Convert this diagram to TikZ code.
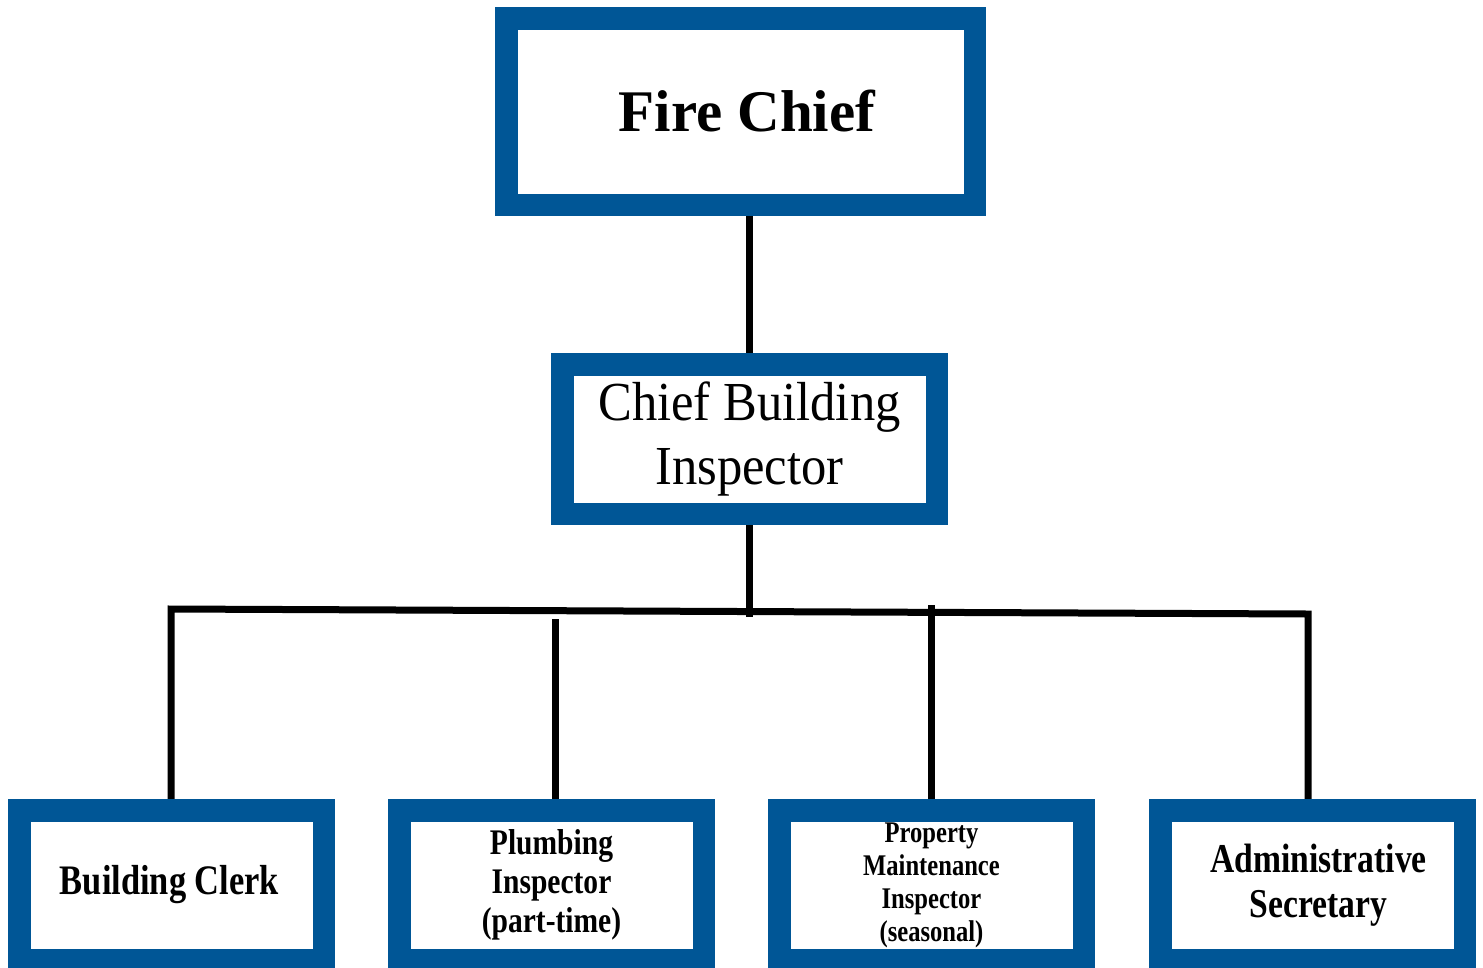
\documentclass[tikz,border=0pt]{standalone}
\usepackage{fontspec}
\setmainfont{Liberation Serif}
\newfontfamily\condA[FakeStretch=0.92]{Liberation Serif}
\newfontfamily\condB[FakeStretch=0.82]{Liberation Serif}
\usetikzlibrary{backgrounds}
\definecolor{orgblue}{RGB}{0,86,150}
\tikzset{
  orgbox/.style={draw=orgblue, fill=white, line width=22.5pt, inner sep=0pt, align=center, text=black},
  conn/.style={draw=black, line width=7pt},
}
\begin{document}
\begin{tikzpicture}[x=1pt,y=-1pt]
\useasboundingbox (0,0) rectangle (1483,967);
\node[orgbox, minimum width=468.5pt, minimum height=186.5pt, font={\rmfamily\bfseries\fontsize{59}{64}\selectfont}] (fc) at (740.5,111.5) {\hspace*{13pt}Fire Chief};
\node[orgbox, minimum width=374.5pt, minimum height=149.5pt, font={\condA\fontsize{55}{65}\selectfont}] (cbi) at (749.5,439) {\raisebox{-5pt}{Chief Building}\\\raisebox{-4pt}{Inspector}};
\node[orgbox, minimum width=304.5pt, minimum height=149.5pt, font={\condB\bfseries\fontsize{42}{45}\selectfont}] (b1) at (171.5,885) {\raisebox{-3pt}{Building Clerk}\hspace*{4pt}};
\node[orgbox, minimum width=304.5pt, minimum height=149.5pt, font={\condB\bfseries\fontsize{36}{39}\selectfont}] (b2) at (551.5,885) {Plumbing\\Inspector\\(part-time)};
\node[orgbox, minimum width=304.5pt, minimum height=149.5pt, font={\condB\bfseries\fontsize{30}{33}\selectfont}] (b3) at (931.5,885) {Property\\Maintenance\\Inspector\\(seasonal)};
\node[orgbox, minimum width=304.5pt, minimum height=149.5pt, font={\condB\bfseries\fontsize{41}{45}\selectfont}] (b4) at (1312.5,885) {\hspace*{12pt}Administrative\\\hspace*{12pt}Secretary};
\coordinate (hl) at (171,609);
\coordinate (hr) at (1308,614);
\coordinate (j) at (751,617);
\coordinate (v2) at (555,619);
\coordinate (v3) at (931,605);
\begin{scope}[on background layer]
\draw[conn] (cbi.north |- fc.south) -- (cbi.north);
\draw[conn] (cbi.south) -- (cbi.south |- j);
\draw[conn, line join=miter] (b1.north -| hl) -- (hl) -- (hr) -- (hr |- b4.north);
\draw[conn] (v2) -- (v2 |- b2.north);
\draw[conn] (v3) -- (v3 |- b3.north);
\end{scope}
\end{tikzpicture}
\end{document}
